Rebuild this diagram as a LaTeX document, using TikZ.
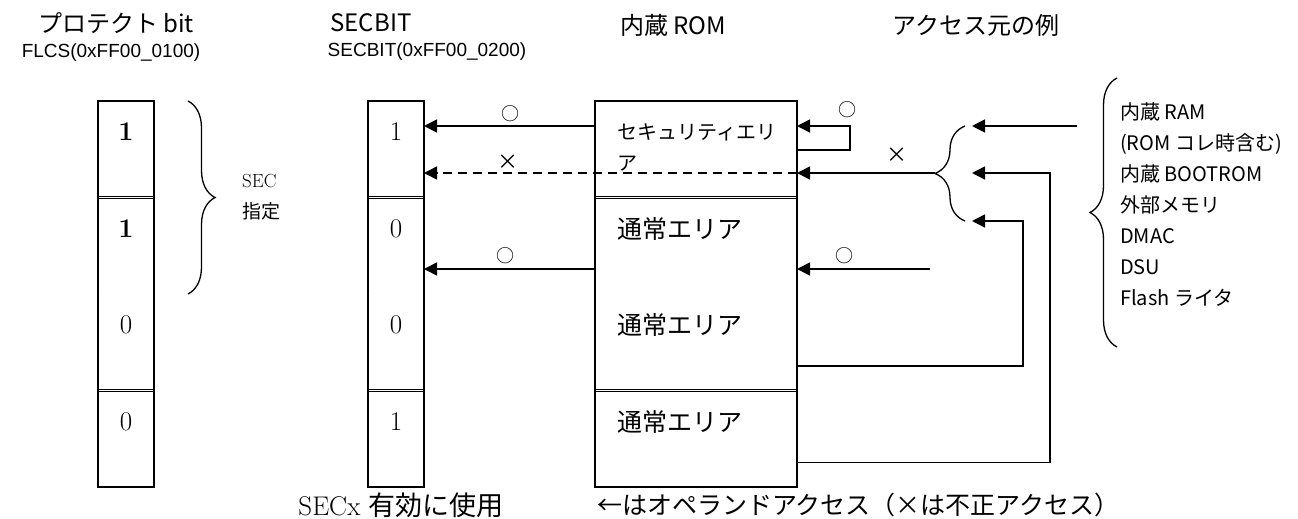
\documentclass[tikz,border=0pt]{standalone}
\usepackage{fontspec}
\newfontfamily\jp{Noto Sans CJK JP}
\newfontfamily\arial{Liberation Sans}
\usepackage{tikz}
\usetikzlibrary{arrows.meta,positioning,calc,decorations.pathreplacing}
\newcommand{\fs}[1]{\fontsize{#1}{#1}\selectfont}
\tikzset{
  cell/.style={draw, line width=1.2pt, minimum width=56pt, minimum height=96.5pt, inner sep=0pt, outer sep=0pt},
  romcell/.style={cell, minimum width=202pt},
  divider/.style={draw, line width=0.8pt, double, double distance=1.2pt},
  arr/.style={-{Triangle[length=13pt,width=13pt]}, line width=1.6pt},
  dasharr/.style={arr, dash pattern=on 9pt off 6pt},
  brc/.style={decorate, decoration={brace, amplitude=#1}, line width=1.3pt},
  ttl/.style={font=\jp\fs{24}, inner sep=0pt},
  sub/.style={font=\arial\fs{19}, inner sep=0pt},
  digit/.style={font=\fs{27}, inner sep=0pt}
}

\begin{document}
\begin{tikzpicture}[x=1pt, y=-1pt,
  accmark/.style={font=\jp\fs{18}, inner sep=0pt},
  areatxt/.style={font=\jp\fs{25}, anchor=west, inner sep=0pt}
]
\useasboundingbox (0,0) rectangle (1298,519);

% titles
\node[ttl] (tprot) at (116,23) {プロテクト bit};
\node[sub] (sflcs) at (111,53) {FLCS(0xFF00\_0100)};
\node[ttl] (tsec) at (371,23) {SECBIT};
\node[sub] (ssec) at (427,52) {SECBIT(0xFF00\_0200)};
\node[ttl] (trom) at (673,25) {内蔵 ROM};
\node[ttl] (tsrc) at (976,25) {アクセス元の例};

% three stacks
\node[cell] (flcs1) at (126,149.25) {};
\node[cell] (sec1) at (396,149.25) {};
\node[romcell] (rom1) at (696,149.25) {};
\foreach \i/\j in {2/1,3/2,4/3}{
  \node[cell, below=0pt of flcs\j] (flcs\i) {};
  \node[cell, below=0pt of sec\j] (sec\i) {};
  \node[romcell, below=0pt of rom\j] (rom\i) {};
}
\foreach \i in {1,2,3}{
  \draw[divider] ([xshift=0.6pt]flcs\i.south west) -- ([xshift=-0.6pt]flcs\i.south east);
  \draw[divider] ([xshift=0.6pt]sec\i.south west) -- ([xshift=-0.6pt]sec\i.south east);
  \draw[divider] ([xshift=0.6pt]rom\i.south west) -- ([xshift=-0.6pt]rom\i.south east);
}

\foreach \i/\v in {1/\textbf{1},2/\textbf{1},3/0,4/0}
  \node[digit] (fd\i) at ([yshift=-31pt]flcs\i.north) {\v};
\foreach \i/\v in {1/1,2/0,3/0,4/1}
  \node[digit] (sd\i) at ([yshift=-31pt]sec\i.north) {\v};

\node[font=\jp\fontsize{20}{31}\selectfont, align=left, anchor=west, inner sep=0pt] (secarea)
  at ([xshift=22pt,yshift=-46.5pt]rom1.north west) {セキュリティエリ\\ア};
\foreach \i in {2,3,4}
  \node[areatxt] (area\i) at ([xshift=22pt,yshift=-31pt]rom\i.north west) {通常エリア};

% SEC brace
\draw[brc=27pt] (flcs1.north east -| 188,0) -- (flcs2.south east -| 188,0);
\node[font=\fontsize{19}{31}\selectfont, align=left, anchor=west, inner sep=0pt] (secsel)
  at (242,197.5) {SEC\\{\jp 指定}};

% accesses
\coordinate (tipA) at (972,126);
\coordinate (tipB) at (972,173);
\coordinate (tipC) at (972,221);
\coordinate (bmid) at (935,173);
\coordinate (src1) at (1077,126);
\coordinate (src2) at (930,269);

\draw[arr] ([yshift=-25pt]rom1.north west) -- ([yshift=-25pt]sec1.north east);
\node[accmark] (ok1) at (510,114) {○};
\draw[arr] ([yshift=-49pt]rom1.north east) -| ([xshift=53pt,yshift=-25pt]rom1.north east)
  -- ([yshift=-25pt]rom1.north east);
\node[accmark] (ok2) at (847,110) {○};

\draw[arr] (bmid) -- (rom1.east |- bmid);
\draw[dasharr] (rom1.east |- bmid) -- (sec1.east |- bmid);
\node[accmark, font=\jp\fs{21}] (ng1) at (508,162) {×};
\node[accmark, font=\jp\fs{21}] (ng2) at (897,155) {×};

\draw[arr] (src2) -- (rom2.east |- src2);
\draw[arr] (rom2.west |- src2) -- (sec2.east |- src2);
\node[accmark] (ok3) at (505,256) {○};
\node[accmark] (ok4) at (844,256) {○};

\draw[arr] ([yshift=-72pt]rom3.north east) -| ([xshift=51pt]tipC) -- (tipC);
\draw[arr] ([yshift=-72pt]rom4.north east) -| ([xshift=78pt]tipB) -- (tipB);
\draw[arr] (src1) -- (tipA);

\draw[brc=30pt] (965,221) -- (965,126);
\draw[brc=27pt] (1117,347) -- (1117,78);
\node[font=\jp\fontsize{20}{31}\selectfont, align=left, anchor=west, inner sep=0pt] (srclist)
  at (1120,205) {内蔵 RAM\\(ROM コレ時含む)\\内蔵 BOOTROM\\外部メモリ\\DMAC\\DSU\\Flash ライタ};

% notes
\node[font=\fs{27}, inner sep=0pt] (usenote) at (401,505) {SECx {\jp 有効に使用}};
\node[font=\jp\fs{25}, anchor=west, inner sep=0pt] (accnote) at (597,505)
  {←はオペランドアクセス（×は不正アクセス）};

\end{tikzpicture}
\end{document}
